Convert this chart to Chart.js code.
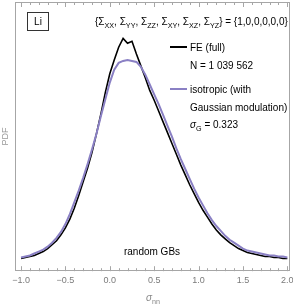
<!DOCTYPE html>
<html><head><meta charset="utf-8">
<script src="https://cdn.jsdelivr.net/npm/chart.js@4/dist/chart.umd.min.js"></script>
<style>html,body{margin:0;padding:0;background:#fff;}#wrap{width:293px;height:306px;position:relative;}</style>
</head><body><div id="wrap"><canvas id="c"></canvas></div>
<script>
// sigma_nn bin centres
const sigmaNN = [-1.00,-0.95,-0.90,-0.85,-0.80,-0.75,-0.70,-0.65,-0.60,-0.55,-0.50,-0.45,-0.40,-0.35,-0.30,-0.25,-0.20,-0.15,-0.10,-0.05,
  0.00,0.05,0.10,0.15,0.20,0.25,0.30,0.35,0.40,0.45,0.50,0.55,0.60,0.65,0.70,0.75,0.80,0.85,0.90,0.95,
  1.00,1.05,1.10,1.15,1.20,1.25,1.30,1.35,1.40,1.45,1.50,1.55,1.60,1.65,1.70,1.75,1.80,1.85,1.90,1.95,2.00];
// FE (full)
const feFull = [0.052,0.056,0.060,0.064,0.072,0.080,0.092,0.108,0.124,0.148,0.176,0.212,0.256,0.308,0.364,0.420,0.484,0.560,0.640,0.728,
  0.804,0.860,0.912,0.948,0.928,0.936,0.884,0.836,0.788,0.736,0.696,0.652,0.608,0.564,0.520,0.476,0.432,0.392,0.352,0.316,
  0.280,0.248,0.220,0.192,0.168,0.148,0.132,0.116,0.104,0.092,0.084,0.076,0.072,0.068,0.064,0.060,0.060,0.056,0.056,0.052,0.052];
// isotropic (with Gaussian modulation)
const isoGauss = [0.056,0.060,0.064,0.072,0.080,0.088,0.100,0.116,0.136,0.160,0.192,0.232,0.280,0.328,0.380,0.436,0.496,0.560,0.632,0.700,
  0.768,0.820,0.848,0.856,0.860,0.856,0.852,0.832,0.800,0.760,0.720,0.680,0.636,0.592,0.548,0.500,0.456,0.416,0.376,0.336,
  0.300,0.268,0.236,0.208,0.184,0.164,0.144,0.128,0.116,0.104,0.092,0.084,0.080,0.076,0.072,0.068,0.064,0.064,0.060,0.060,0.056];
const xTickValues = [-1.0,-0.5,0.0,0.5,1.0,1.5,2.0];
const xTickLabels = ['\u22121.0','\u22120.5','0.0','0.5','1.0','1.5','2.0'];
const seriesNames = ['FE (full)','isotropic (with','Gaussian modulation)'];

const FONT = '"Liberation Sans", Arial, sans-serif';
const GRAY = '#a6a6a6';
const PURPLE = '#8a80c4';

function drawRich(ctx, x, y, parts, size, align) {
  let total = 0;
  const widths = parts.map(p => {
    ctx.font = (p[2] ? 'italic ' : '') + (p[1] ? size*0.72 : size) + 'px ' + FONT;
    const w = ctx.measureText(p[0]).width; total += w; return w;
  });
  let cx = align === 'center' ? x - total/2 : (align === 'right' ? x - total : x);
  ctx.textBaseline = 'alphabetic';
  ctx.textAlign = 'left';
  parts.forEach((p, i) => {
    ctx.font = (p[2] ? 'italic ' : '') + (p[1] ? size*0.72 : size) + 'px ' + FONT;
    ctx.fillText(p[0], cx, p[1] ? y + size*0.25 : y);
    cx += widths[i];
  });
}

const framePlugin = {
  id: 'frame',
  afterDatasetsDraw(chart) {
    const {ctx, chartArea: a, scales: {x}} = chart;
    ctx.save();
    ctx.strokeStyle = GRAY; ctx.lineWidth = 1;
    ctx.strokeRect(Math.round(a.left)+0.5, Math.round(a.top)+0.5, Math.round(a.right-a.left)-1, Math.round(a.bottom-a.top)-1);
    for (let k = -10; k <= 20; k++) {
      const v = k/10;
      const px = Math.round(x.getPixelForValue(v)) + 0.5;
      const len = (k % 5 === 0) ? 5 : 3;
      ctx.beginPath();
      ctx.moveTo(px, a.bottom); ctx.lineTo(px, a.bottom - len);
      ctx.moveTo(px, a.top); ctx.lineTo(px, a.top + len);
      ctx.stroke();
    }
    ctx.restore();
  },
  afterDraw(chart) {
    const {ctx} = chart;
    ctx.save();
    ctx.strokeStyle = '#333'; ctx.lineWidth = 1;
    ctx.strokeRect(27.5, 12.5, 21, 18);
    ctx.fillStyle = '#000';
    ctx.font = '10px ' + FONT; ctx.textAlign = 'center'; ctx.textBaseline = 'middle';
    ctx.fillText('Li', 38, 22);
    drawRich(ctx, 95, 25, [['{\u03A3',0],['XX',1],[', \u03A3',0],['YY',1],[', \u03A3',0],['ZZ',1],[', \u03A3',0],['XY',1],[', \u03A3',0],['XZ',1],[', \u03A3',0],['YZ',1],['} = {1,0,0,0,0,0}',0]], 10, 'left');
    ctx.lineWidth = 2;
    ctx.strokeStyle = '#000';
    ctx.beginPath(); ctx.moveTo(170, 47); ctx.lineTo(187, 47); ctx.stroke();
    ctx.strokeStyle = PURPLE;
    ctx.beginPath(); ctx.moveTo(170, 89); ctx.lineTo(187, 89); ctx.stroke();
    ctx.fillStyle = '#000';
    drawRich(ctx, 190, 51, [[seriesNames[0],0]], 10, 'left');
    drawRich(ctx, 190, 69, [['N = 1 039 562',0]], 10, 'left');
    drawRich(ctx, 190, 93, [[seriesNames[1],0]], 10, 'left');
    drawRich(ctx, 190, 111, [[seriesNames[2],0]], 10, 'left');
    drawRich(ctx, 190, 128, [['\u03C3',0,1],['G',1],[' = 0.323',0]], 10, 'left');
    drawRich(ctx, 152, 255, [['random GBs',0]], 10, 'center');
    ctx.fillStyle = '#888';
    drawRich(ctx, 153, 301, [['\u03C3',0,1],['nn',1]], 10, 'center');
    ctx.restore();
  }
};

new Chart(document.getElementById('c'), {
  type: 'line',
  data: {
    datasets: [
      { label: seriesNames[0], data: sigmaNN.map((v,i)=>({x:v, y:feFull[i]})), borderColor:'#000', borderWidth:1.6, pointRadius:0, fill:false, tension:0, order:2 },
      { label: 'isotropic (with Gaussian modulation)', data: sigmaNN.map((v,i)=>({x:v, y:isoGauss[i]})), borderColor:PURPLE, borderWidth:2, pointRadius:0, fill:false, tension:0, order:1 }
    ]
  },
  options: {
    responsive: true, maintainAspectRatio: false, animation: false, devicePixelRatio: 1,
    layout: { padding: { left: 0, right: 3, top: 2, bottom: 16 } },
    plugins: { legend: { display: false }, tooltip: { enabled: false } },
    scales: {
      x: {
        type: 'linear', min: -1.07, max: 2.03,
        afterBuildTicks: s => { s.ticks = xTickValues.map(v => ({ value: v })); },
        afterFit: s => { s.paddingLeft = 0; s.paddingRight = 0; },
        ticks: { callback: (v, i) => xTickLabels[i], font: { family: FONT, size: 9 }, color: '#7a7a7a', padding: 4, maxRotation: 0, autoSkip: false },
        grid: { display: false, drawTicks: false },
        border: { display: false }
      },
      y: {
        min: 0, max: 1.096,
        ticks: { display: false },
        grid: { display: false, drawTicks: false },
        border: { display: false },
        title: { display: true, text: 'PDF', color: '#999', font: { family: FONT, size: 9 }, padding: { top: 0, bottom: 4 } }
      }
    }
  },
  plugins: [framePlugin]
});
</script></body></html>
